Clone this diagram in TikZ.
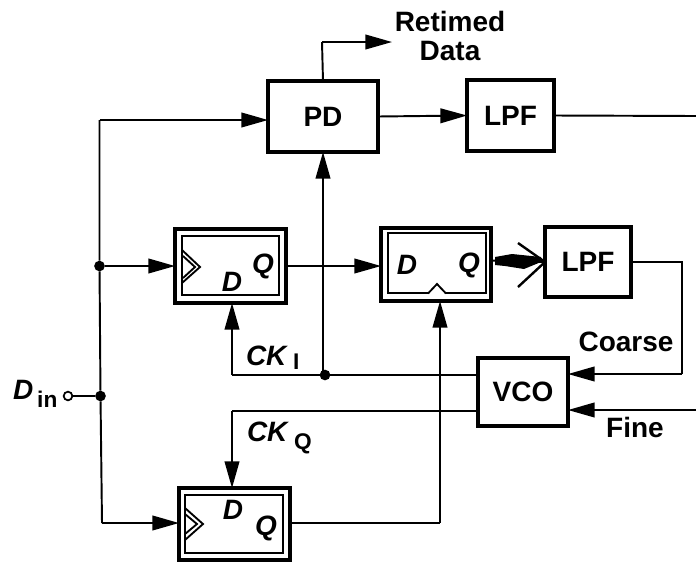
\documentclass[tikz,border=0pt]{standalone}
\usepackage{fontspec}
\setmainfont{Liberation Sans}
\usetikzlibrary{arrows.meta}
\tikzset{
  x=0.75pt,y=-0.75pt,
  bx/.style 2 args={minimum width=#1*0.75pt,minimum height=#2*0.75pt,inner sep=0pt,outer sep=0pt},
  thickbox/.style={draw,line width=3pt},
  thinbox/.style={draw,line width=1.5pt},
  lab/.style={font=\fontsize{21}{23}\selectfont\bfseries,inner sep=0pt,outer sep=0pt},
  ilab/.style={font=\fontsize{21}{23}\selectfont\bfseries\itshape,inner sep=0pt,outer sep=0pt},
  wire/.style={line width=1.45pt,line join=miter},
  arr/.style={wire,-{Stealth[inset=0pt,length=20pt,width=11pt]}},
  dot/.style={circle,fill=black,minimum size=8pt,inner sep=0pt,outer sep=0pt},
  chev/.style={line width=1.4pt,line join=miter},
}
\begin{document}
\begin{tikzpicture}
\useasboundingbox (0,0) rectangle (696,565);
% boxes
\node[thickbox,bx={110}{71},lab] (pd) at (323,116.5) {PD};
\node[thickbox,bx={87}{71},lab] (lpfa) at (510.5,115.5) {LPF};
\node[thickbox,bx={86}{70},lab] (lpfb) at (588,262) {LPF};
\node[thickbox,bx={90}{68},lab] (vco) at (523,392) {VCO};
\node[thickbox,bx={111}{74}] (ffa) at (230.5,266) {};
\node[thinbox,bx={97}{59}] (ffai) at (230.5,265.5) {};
\node[thickbox,bx={110}{73}] (ffb) at (436,264.5) {};
\node[thinbox,bx={98}{60}] (ffbi) at (437,263) {};
\node[thickbox,bx={111}{72}] (ffc) at (234.5,524) {};
\node[thinbox,bx={98}{58}] (ffci) at (234,524) {};
% clock marks
\draw[chev] (182,250) -- (200,267) -- (182,283);
\draw[chev] (183,256) -- (195,267) -- (183,278);
\draw[chev] (185,508) -- (203,524) -- (185,540);
\draw[chev] (185,514) -- (197,524) -- (185,534);
\fill[white] (429,291.5) -- (437,284) -- (445,291.5) -- (445,295) -- (429,295) -- cycle;
\draw[chev] (428,293.5) -- (437,284) -- (446,293.5);
% flip-flop letters
\node[ilab] (da) at (232,282) {D};
\node[ilab] (qa) at (263,266) {Q};
\node[ilab] (db) at (407,265) {D};
\node[ilab] (qb) at (469,265) {Q};
\node[ilab] (dc) at (233,510) {D};
\node[ilab] (qc) at (266,528) {Q};
% terminal and junctions
\node[circle,draw,line width=1.3pt,minimum size=6.5pt,inner sep=0pt,outer sep=0pt] (din) at (68,396) {};
\node[dot] (jb) at (100.5,396) {};
\node[dot] (jt) at (99.5,266) {};
\node[dot] (jc) at (325,375) {};
\coordinate (tl) at (99.5,120);
\coordinate (bl) at (102,523);
\coordinate (ckiturn) at (232,375);
\coordinate (ckqturn) at (232,411);
\coordinate (qcturn) at (440,523);
\coordinate (rtturn) at (322,44);
\coordinate (rtend) at (392,42);
\coordinate (lpfout) at (682,262);
\coordinate (lpfdown) at (682,374);
\coordinate (eastedge) at (696,116);
\coordinate (fineedge) at (696,410);
% connectors
\draw[wire] (din.east) -- (jb);
\draw[wire] (bl) -- (jb) -- (jt) -- (tl);
\draw[arr] (tl) -- (pd.west |- tl);
\draw[arr] (jt) -- (ffa.west |- jt);
\draw[arr] (bl) -- (ffc.west |- bl);
\draw[arr] (ffa.east) -- (ffb.west |- ffa.east);
\draw[arr] (jc.center -| pd.south) -- (pd.south);
\draw[wire] (vco.west |- jc) -- (jc) -- (ckiturn);
\draw[arr] (ckiturn) -- (ckiturn |- ffa.south);
\draw[wire] (vco.west |- ckqturn) -- (ckqturn);
\draw[arr] (ckqturn) -- (ckqturn |- ffc.north);
\draw[wire] (ffc.east |- qcturn) -- (qcturn);
\draw[arr] (qcturn) -- (qcturn |- ffb.south);
\draw[wire] (pd.north) -- (rtturn |- rtend);
\draw[arr] (rtturn |- rtend) -- (rtend);
\draw[arr] (pd.east) -- (lpfa.west);
\draw[wire] (lpfa.east) -- (eastedge);
% thick arrow into second filter
\draw[wire] (ffb.east) ++(0,-4) -- (lpfb.west);
\fill (495,257) -- (512,254) -- (541,257) -- (541,262) -- (524,269) -- (505,266) -- (495,265) -- cycle;
\draw[line width=1.8pt] (518,243) -- (lpfb.west) -- (518,287);
\draw[wire] (lpfb.east) -- (lpfout) -- (lpfdown);
\draw[arr] (lpfdown) -- (vco.east |- lpfdown);
\draw[arr] (fineedge) -- (vco.east |- fineedge);
% labels
\node[lab] (ret) at (450,21) {Retimed};
\node[lab] (dat) at (450,51) {Data};
\node[lab] (coarse) at (626,342) {Coarse};
\node[lab] (fine) at (635,427) {Fine};
\node[ilab,anchor=west] (cki) at (246,358) {CK\hspace{5pt}\raisebox{-3pt}{\fontsize{17}{19}\selectfont\upshape I}};
\node[ilab,anchor=west] (ckq) at (247,438) {CK\hspace{5pt}\raisebox{-6pt}{\fontsize{17}{19}\selectfont\upshape Q}};
\node[ilab,anchor=west] (dinl) at (13,394) {D\hspace{3pt}\raisebox{-6pt}{\fontsize{17}{19}\selectfont\upshape in}};
\end{tikzpicture}
\end{document}
